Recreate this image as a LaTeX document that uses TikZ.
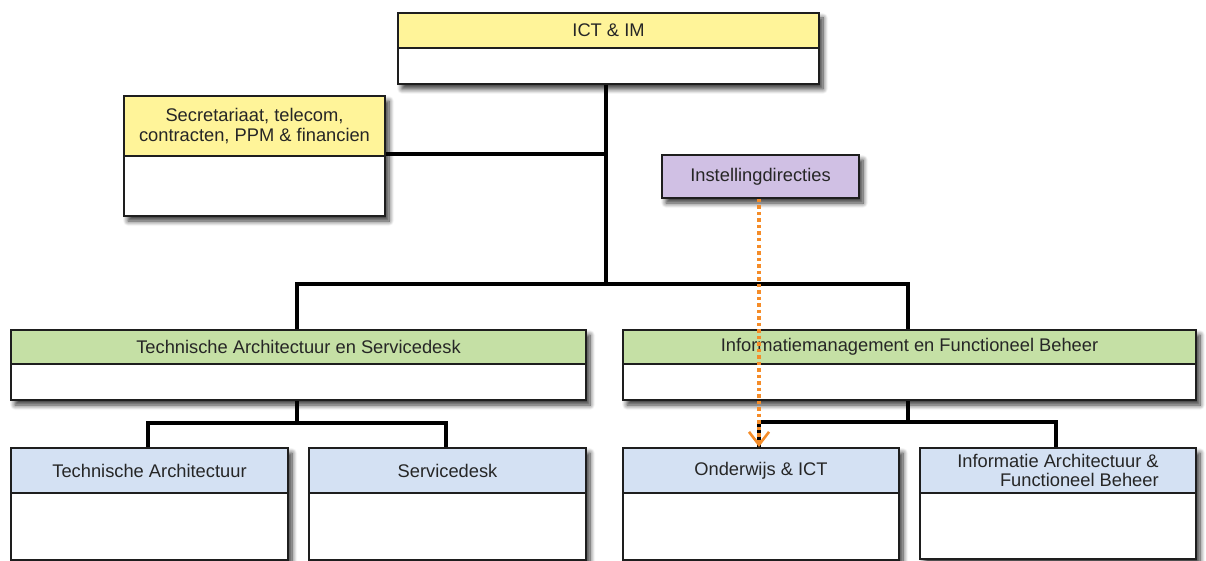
\documentclass[tikz,border=0pt]{standalone}
\usepackage{fontspec}
\setmainfont{Liberation Sans}
\usetikzlibrary{shadows.blur,arrows.meta}
\definecolor{hyellow}{RGB}{255,244,153}
\definecolor{hgreen}{RGB}{197,224,165}
\definecolor{hblue}{RGB}{212,225,243}
\definecolor{hpurple}{RGB}{208,192,228}
\definecolor{bord}{RGB}{30,30,30}
\definecolor{arroworange}{RGB}{245,140,40}
\tikzset{
  myshadow/.style={blur shadow={shadow xshift=4pt, shadow yshift=-5pt, shadow blur steps=8, shadow opacity=80, shadow blur radius=5pt}},
  boxbody/.style={draw=bord, line width=2pt, fill=white, anchor=north west, inner sep=0pt, myshadow},
  boxhead/.style={draw=bord, line width=2pt, anchor=north west, inner sep=0pt, align=center,
    font=\fontsize{18.3}{19.5}\selectfont, text=black!85},
  conn/.style={line width=3.2pt, black},
  orangearrow/.style={arroworange, line width=3.6pt, dash pattern=on 3.5pt off 3pt, -{Straight Barb[length=13pt,width=20pt,line width=2.6pt]}},
}
\begin{document}
\begin{tikzpicture}[x=1pt,y=-1pt]
\useasboundingbox (0,0) rectangle (1206,561);
\clip (0,0) rectangle (1206,561);
% ICT & IM
\node[boxbody, minimum width=421pt, minimum height=71pt] (ictb) at (397,12) {};
\node[boxhead, fill=hyellow, minimum width=421pt, minimum height=35pt] (ict) at (397,12) {ICT \& IM};
% Secretariaat
\node[boxbody, minimum width=261pt, minimum height=120pt] (secb) at (123,95) {};
\node[boxhead, fill=hyellow, minimum width=261pt, minimum height=60pt] (sec) at (123,95) {Secretariaat, telecom,\\contracten, PPM \& financien};
% Instellingdirecties
\node[boxhead, fill=hpurple, minimum width=197pt, minimum height=43pt, myshadow] (inst) at (661,154) {Instellingdirecties};
% Technische Architectuur en Servicedesk
\node[boxbody, minimum width=575pt, minimum height=70pt] (tasb) at (10,329) {};
\node[boxhead, fill=hgreen, minimum width=575pt, minimum height=34pt] (tas) at (10,329) {Technische Architectuur en Servicedesk};
% Informatiemanagement en Functioneel Beheer
\node[boxbody, minimum width=573pt, minimum height=70pt] (imfbb) at (622,329) {};
\node[boxhead, fill=hgreen, minimum width=573pt, minimum height=34pt] (imfb) at (622,329) {Informatiemanagement en Functioneel Beheer};
% Bottom row
\node[boxbody, minimum width=277pt, minimum height=112pt] (tab) at (10,447) {};
\node[boxhead, fill=hblue, minimum width=277pt, minimum height=45pt] (ta) at (10,447) {Technische Architectuur};
\node[boxbody, minimum width=277pt, minimum height=112pt] (sdb) at (308,447) {};
\node[boxhead, fill=hblue, minimum width=277pt, minimum height=45pt] (sd) at (308,447) {Servicedesk};
\node[boxbody, minimum width=276pt, minimum height=112pt] (owb) at (622,447) {};
\node[boxhead, fill=hblue, minimum width=276pt, minimum height=45pt] (ow) at (622,447) {Onderwijs \& ICT};
\node[boxbody, minimum width=276pt, minimum height=111pt] (iafbb) at (919,447) {};
\node[boxhead, fill=hblue, minimum width=276pt, minimum height=45pt, align=right] (iafb) at (919,447) {Informatie Architectuur \&\\Functioneel Beheer};
% Connectors
\coordinate (j1) at (606,284);
\draw[conn] (ictb.south -| j1) -- (j1);
\draw[conn] (secb.east |- 0,154) -- (j1 |- 0,154);
\draw[conn] (tas.north -| 297,0) |- (j1) -| (imfb.north -| 908,0);
\coordinate (j2) at (297,423);
\draw[conn] (tasb.south -| j2) -- (j2);
\draw[conn] (ta.north -| 148,0) |- (j2) -| (sd.north -| 446,0);
\coordinate (j3) at (908,422);
\draw[conn] (imfbb.south -| j3) -- (j3);
\draw[conn] (ow.north -| 759,0) |- (j3) -| (iafb.north -| 1056,0);
% Orange dotted arrow
\draw[orangearrow] (inst.south -| 759,0) -- (ow.north -| 759,0);
\end{tikzpicture}
\end{document}
